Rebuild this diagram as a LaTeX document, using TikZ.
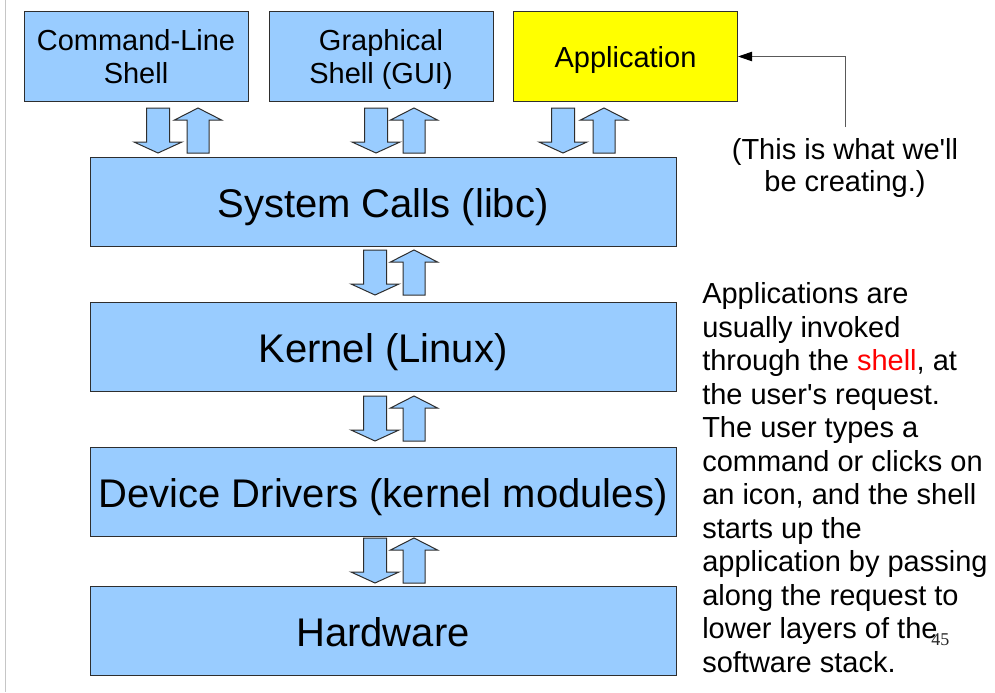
\documentclass[tikz,border=0pt]{standalone}
\usepackage{fontspec}
\setmainfont{Liberation Sans}
\newfontfamily\numfont{Liberation Serif}
\usetikzlibrary{arrows.meta}
\definecolor{boxblue}{HTML}{99CCFF}
\definecolor{boxline}{HTML}{2E2E2E}
\definecolor{appyellow}{HTML}{FFFF00}
\definecolor{shellred}{HTML}{FF0000}
\begin{document}
\begin{tikzpicture}[x=0.75pt,y=-0.75pt,
  layer/.style={draw=boxline, fill=boxblue, line width=0.75pt, minimum width=439.5pt, minimum height=66.75pt, inner sep=0pt, text height=23.7pt, text depth=0pt, font=\fontsize{30}{36}\selectfont},
  topbox/.style={draw=boxline, fill=boxblue, line width=0.75pt, minimum width=168pt, minimum height=66.75pt, inner sep=0pt, align=center, font=\fontsize{21.75}{24.75}\selectfont},
  para/.style={anchor=base west, inner sep=0pt, font=\fontsize{21.75}{25}\selectfont},
  note/.style={anchor=base, inner sep=0pt, font=\fontsize{21.75}{25}\selectfont},
  blockarrow/.style={draw=boxline, fill=boxblue, line width=0.75pt, line join=miter},
  downarr/.pic={\path[blockarrow] (-11.5,0) -- (11.5,0) -- (11.5,34) -- (24,34) -- (0,45) -- (-24,34) -- (-11.5,34) -- cycle;},
  uparr/.pic={\path[blockarrow] (0,0) -- (23.5,12) -- (11,12) -- (11,45) -- (-11,45) -- (-11,12) -- (-23.5,12) -- cycle;},
  pointer/.style={draw=black!65, line width=0.75pt, -{Triangle[length=10.5pt,width=7pt,color=black]}}
]
\useasboundingbox (0,0) rectangle (995,692);
\fill[white] (0,0) rectangle (995,692);
\draw[gray!45, line width=0.75pt] (5,0) -- (5,692);

% top row
\node[topbox] (cl) at (136,56.5) {Command-Line\\Shell};
\node[topbox] (gui) at (381,56.5) {Graphical\\Shell \smash{(GUI)}};
\node[topbox, fill=appyellow, text height=17.2pt, text depth=0pt] (app) at (625.5,56.5) {Application};

% layers
\node[layer] (sys) at (383,201.5) {System Calls (libc)};
\node[layer] (kern) at (383,346.5) {Kernel (Linux)};
\node[layer] (drv) at (383,491.5) {Device Drivers (kernel modules)};
\node[layer] (hw) at (383,630.5) {Hardware};

% block arrows
\pic at (158,108) {downarr}; \pic at (198,108) {uparr};
\pic at (376,108) {downarr}; \pic at (414,108) {uparr};
\pic at (563,108) {downarr}; \pic at (604,108) {uparr};
\pic at (375,250) {downarr}; \pic at (414,250) {uparr};
\pic at (375,396) {downarr}; \pic at (414,396) {uparr};
\pic at (375,538) {downarr}; \pic at (414,538) {uparr};

% annotation
\node[note] (note1) at (845,159.5) {(This is what we\textquotesingle ll};
\node[note] (note2) at (845,191.5) {be creating.)};
\draw[pointer] ([yshift=8.25pt]note1.north) |- (app.east);

% paragraph
\node[para] (p1) at (702,303.5) {Applications are};
\node[para] (p2) at (702,337) {usually invoked};
\node[para] (p3) at (702,370.5) {through the \textcolor{shellred}{shell}, at};
\node[para] (p4) at (702,404) {the user\textquotesingle s request.};
\node[para] (p5) at (702,437.5) {The user types a};
\node[para] (p6) at (702,471) {command or clicks on};
\node[para] (p7) at (702,504.5) {an icon, and the shell};
\node[para] (p8) at (702,538) {starts up the};
\node[para] (p9) at (702,571.5) {application by passing};
\node[para] (p10) at (702,605) {along the request to};
\node[para] (p11) at (702,638.5) {lower layers of the};
\node[para] (p12) at (702,672) {software stack.};

% page number
\node[anchor=base west, inner sep=0pt, text=black!85, font=\numfont\fontsize{13.5}{16}\selectfont] (pg) at (931,645) {45};
\end{tikzpicture}
\end{document}
